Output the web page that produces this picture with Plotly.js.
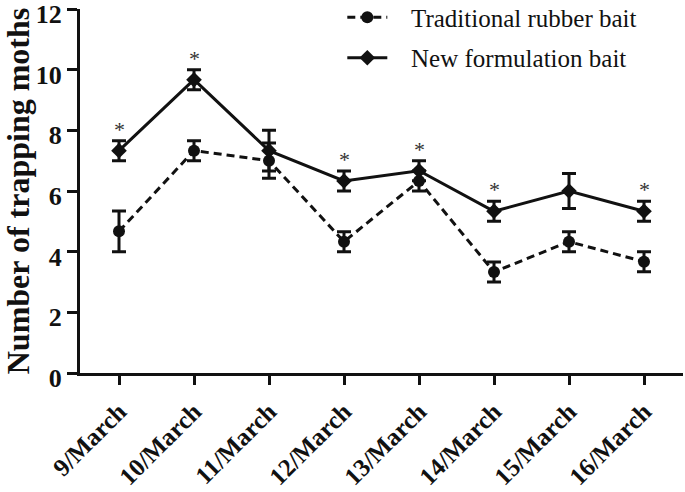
<!DOCTYPE html>
<html>
<head>
<meta charset="utf-8">
<script src="https://cdn.plot.ly/plotly-3.0.1.min.js"></script>
<style>html,body{margin:0;padding:0;background:#fff;}#chart{width:685px;height:492px;}</style>
</head>
<body>
<div id="chart"></div>
<script>
const dates = ["9/March","10/March","11/March","12/March","13/March","14/March","15/March","16/March"];
const traditional = [4.67, 7.33, 7.0, 4.33, 6.33, 3.33, 4.33, 3.67];
const traditionalErr = [0.67, 0.33, 0.58, 0.33, 0.33, 0.33, 0.33, 0.33];
const newBait = [7.33, 9.67, 7.33, 6.33, 6.67, 5.33, 6.0, 5.33];
const newBaitErr = [0.33, 0.33, 0.67, 0.33, 0.33, 0.33, 0.58, 0.33];
const significant = [true, true, false, true, true, true, false, true];
const yTicks = [0, 2, 4, 6, 8, 10, 12];

const ink = "#111111";
const serif = "Liberation Serif, Times New Roman, serif";
const pad = "\u2002\u00a0";

const traces = [
  {
    x: dates, y: traditional, name: pad + "Traditional rubber bait", type: "scatter", mode: "lines+markers",
    legendgroup: "a",
    line: {color: ink, width: 3, dash: "8px,5px"},
    marker: {symbol: "circle", size: 12, color: ink},
    error_y: {type: "data", array: traditionalErr, visible: true, color: ink, thickness: 3, width: 7}
  },
  {
    x: dates, y: newBait, name: pad + "New formulation bait", type: "scatter", mode: "lines+markers",
    legendgroup: "b",
    line: {color: ink, width: 3},
    marker: {symbol: "diamond", size: 12, color: ink},
    error_y: {type: "data", array: newBaitErr, visible: true, color: ink, thickness: 3, width: 7}
  }
];

const annotations = [];
dates.forEach((d, i) => {
  if (significant[i]) {
    annotations.push({
      x: d, y: newBait[i] + newBaitErr[i], xref: "x", yref: "y",
      text: "*", showarrow: false, yanchor: "bottom", yshift: -3,
      font: {family: serif, size: 22, color: "#333"}
    });
  }
});

const layout = {
  width: 685, height: 492,
  margin: {l: 80, r: 2, t: 9, b: 119, autoexpand: false},
  paper_bgcolor: "#fff", plot_bgcolor: "#fff",
  showlegend: true,
  legend: {
    x: 0.435, y: 1.04, xanchor: "left", yanchor: "top",
    font: {family: serif, size: 25, color: ink},
    tracegroupgap: 5, itemwidth: 40, bgcolor: "rgba(0,0,0,0)"
  },
  xaxis: {
    type: "category", range: [-0.52, 7.52], automargin: false,
    showline: true, linecolor: ink, linewidth: 3,
    ticks: "outside", ticklen: 9, tickwidth: 3, tickcolor: ink,
    tickangle: -45, showgrid: false, zeroline: false,
    ticklabelstandoff: 2,
    tickfont: {family: serif, size: 25, color: ink, weight: "bold"}
  },
  yaxis: {
    range: [0, 12], tickvals: yTicks, automargin: false,
    showline: true, linecolor: ink, linewidth: 3,
    ticks: "outside", ticklen: 10, tickwidth: 3, tickcolor: ink,
    showgrid: false, zeroline: false, ticklabeloverflow: "allow",
    ticklabelshift: 5,
    tickfont: {family: serif, size: 26, color: ink, weight: "bold"},
    title: {text: "Number of trapping moths", standoff: 2,
            font: {family: serif, size: 32, color: ink, weight: "bold"}}
  },
  annotations: annotations
};

Plotly.newPlot("chart", traces, layout, {displayModeBar: false, staticPlot: true});
</script>
</body>
</html>
